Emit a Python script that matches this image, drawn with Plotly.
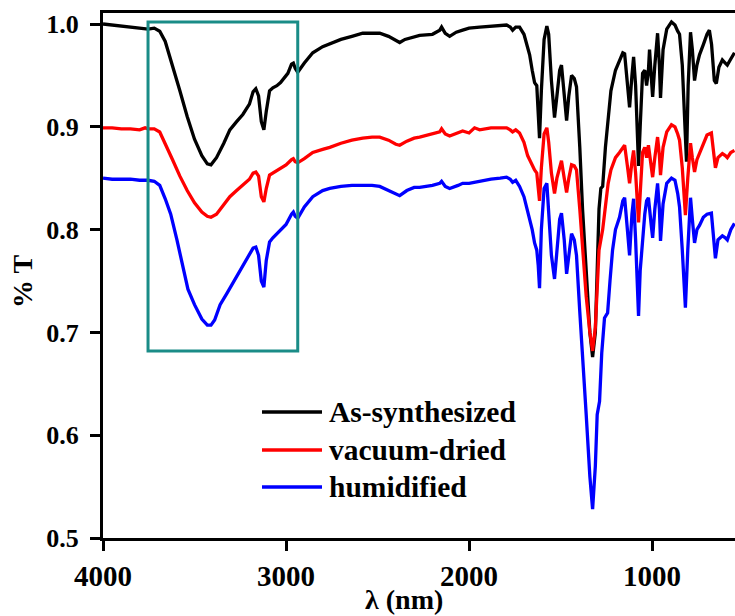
import plotly.graph_objects as go

# ---------------- data ----------------
series_names = ["As-synthesized", "vacuum-dried", "humidified"]
series_colors = ["#000000", "#ff0000", "#0000ff"]

wn_black = [4000, 3950, 3900, 3850, 3800, 3754, 3720, 3690, 3660, 3620, 3580, 3540, 3500, 3460, 3430, 3410, 3380, 3340, 3307, 3270, 3236, 3200, 3180, 3165, 3150, 3135, 3121, 3108, 3090, 3072, 3050, 3030, 3010, 2990, 2970, 2960, 2950, 2936, 2900, 2854, 2800, 2761, 2700, 2640, 2581, 2530, 2488, 2440, 2400, 2379, 2350, 2300, 2270, 2200, 2160, 2150, 2130, 2106, 2070, 2035, 2000, 1942, 1880, 1830, 1795, 1775, 1762, 1745, 1724, 1700, 1680, 1669, 1655, 1642, 1630, 1622, 1615, 1605, 1590, 1575, 1565, 1550, 1533, 1520, 1505, 1495, 1480, 1467, 1455, 1440, 1425, 1413, 1395, 1380, 1360, 1340, 1325, 1310, 1300, 1290, 1280, 1270, 1255, 1240, 1225, 1200, 1178, 1160, 1150, 1135, 1123, 1110, 1101, 1090, 1080, 1074, 1065, 1052, 1040, 1030, 1020, 1014, 1005, 997, 985, 970, 960, 954, 940, 920, 894, 875, 860, 850, 835, 822, 812, 803, 790, 780, 768, 755, 741, 720, 700, 687, 675, 660, 649, 635, 616, 600, 589, 570, 550]
t_black = [1.000, 0.999, 0.998, 0.997, 0.996, 0.995, 0.996, 0.993, 0.983, 0.960, 0.935, 0.910, 0.888, 0.872, 0.864, 0.863, 0.870, 0.884, 0.897, 0.905, 0.912, 0.922, 0.934, 0.937, 0.930, 0.905, 0.897, 0.915, 0.935, 0.938, 0.940, 0.943, 0.948, 0.952, 0.961, 0.962, 0.957, 0.953, 0.962, 0.972, 0.978, 0.981, 0.985, 0.988, 0.991, 0.991, 0.991, 0.988, 0.984, 0.982, 0.985, 0.988, 0.989, 0.990, 0.994, 0.997, 0.991, 0.988, 0.992, 0.994, 0.996, 0.997, 0.998, 0.999, 0.999, 0.997, 0.994, 0.997, 0.997, 0.990, 0.976, 0.970, 0.955, 0.943, 0.940, 0.915, 0.889, 0.935, 0.985, 0.998, 0.990, 0.945, 0.909, 0.930, 0.955, 0.960, 0.935, 0.906, 0.930, 0.950, 0.947, 0.939, 0.880, 0.820, 0.760, 0.700, 0.676, 0.700, 0.760, 0.820, 0.840, 0.842, 0.880, 0.910, 0.935, 0.955, 0.965, 0.972, 0.971, 0.945, 0.919, 0.950, 0.968, 0.940, 0.890, 0.862, 0.900, 0.952, 0.955, 0.940, 0.955, 0.975, 0.950, 0.929, 0.960, 0.991, 0.960, 0.928, 0.975, 0.995, 1.002, 0.999, 0.993, 0.990, 0.960, 0.900, 0.866, 0.940, 0.992, 0.975, 0.945, 0.960, 0.970, 0.980, 0.990, 0.994, 0.980, 0.945, 0.942, 0.958, 0.965, 0.962, 0.960, 0.966, 0.972]

wn_red = [4000, 3950, 3900, 3850, 3800, 3770, 3754, 3720, 3690, 3660, 3620, 3580, 3540, 3500, 3460, 3430, 3410, 3380, 3340, 3307, 3270, 3236, 3200, 3180, 3165, 3150, 3135, 3121, 3108, 3090, 3072, 3040, 3000, 2970, 2960, 2950, 2936, 2900, 2854, 2800, 2761, 2700, 2640, 2581, 2530, 2488, 2440, 2400, 2379, 2340, 2300, 2270, 2200, 2160, 2150, 2130, 2106, 2060, 2035, 2000, 1970, 1942, 1880, 1830, 1795, 1775, 1762, 1745, 1724, 1700, 1680, 1669, 1655, 1642, 1630, 1622, 1615, 1605, 1590, 1575, 1565, 1550, 1533, 1520, 1505, 1495, 1480, 1467, 1455, 1440, 1425, 1413, 1395, 1380, 1360, 1340, 1325, 1310, 1300, 1290, 1270, 1255, 1240, 1225, 1200, 1178, 1160, 1150, 1135, 1123, 1110, 1101, 1090, 1080, 1074, 1065, 1052, 1040, 1030, 1020, 1005, 997, 985, 970, 960, 954, 940, 920, 894, 875, 860, 850, 835, 822, 818, 805, 790, 780, 768, 755, 741, 720, 700, 676, 665, 654, 640, 616, 600, 589, 570, 550]
t_red = [0.899, 0.899, 0.898, 0.898, 0.897, 0.899, 0.898, 0.898, 0.895, 0.884, 0.868, 0.852, 0.838, 0.826, 0.817, 0.813, 0.812, 0.815, 0.824, 0.832, 0.838, 0.843, 0.849, 0.855, 0.856, 0.852, 0.832, 0.827, 0.840, 0.853, 0.855, 0.858, 0.863, 0.868, 0.869, 0.866, 0.865, 0.869, 0.875, 0.878, 0.880, 0.884, 0.887, 0.889, 0.890, 0.890, 0.887, 0.883, 0.882, 0.886, 0.889, 0.890, 0.893, 0.895, 0.898, 0.893, 0.891, 0.894, 0.896, 0.894, 0.899, 0.897, 0.899, 0.899, 0.899, 0.897, 0.895, 0.897, 0.894, 0.885, 0.872, 0.868, 0.862, 0.858, 0.855, 0.842, 0.828, 0.860, 0.893, 0.899, 0.885, 0.855, 0.835, 0.850, 0.862, 0.867, 0.850, 0.836, 0.850, 0.863, 0.862, 0.858, 0.820, 0.780, 0.735, 0.700, 0.682, 0.705, 0.745, 0.780, 0.800, 0.825, 0.845, 0.858, 0.870, 0.875, 0.880, 0.882, 0.862, 0.845, 0.866, 0.877, 0.855, 0.825, 0.807, 0.835, 0.875, 0.880, 0.870, 0.882, 0.862, 0.851, 0.870, 0.890, 0.872, 0.853, 0.880, 0.895, 0.902, 0.900, 0.893, 0.887, 0.860, 0.830, 0.814, 0.850, 0.884, 0.870, 0.856, 0.868, 0.874, 0.885, 0.892, 0.894, 0.875, 0.860, 0.870, 0.874, 0.872, 0.870, 0.875, 0.877]

wn_blue = [4000, 3950, 3900, 3850, 3800, 3754, 3720, 3690, 3660, 3630, 3596, 3560, 3536, 3500, 3460, 3430, 3410, 3390, 3360, 3323, 3290, 3250, 3210, 3180, 3165, 3150, 3135, 3121, 3108, 3090, 3072, 3040, 3000, 2970, 2960, 2950, 2936, 2900, 2854, 2800, 2761, 2700, 2640, 2581, 2530, 2488, 2440, 2400, 2379, 2340, 2300, 2270, 2200, 2160, 2150, 2130, 2106, 2060, 2035, 2000, 1942, 1880, 1830, 1795, 1775, 1762, 1745, 1724, 1700, 1685, 1669, 1655, 1642, 1630, 1622, 1615, 1605, 1590, 1575, 1565, 1550, 1533, 1520, 1505, 1495, 1480, 1467, 1455, 1440, 1425, 1413, 1395, 1380, 1360, 1340, 1325, 1310, 1300, 1287, 1275, 1260, 1243, 1230, 1216, 1200, 1178, 1160, 1150, 1135, 1123, 1110, 1101, 1090, 1080, 1074, 1065, 1052, 1040, 1030, 1020, 1005, 997, 985, 970, 960, 954, 940, 920, 894, 875, 860, 850, 835, 822, 818, 805, 790, 780, 768, 755, 741, 720, 700, 676, 665, 654, 640, 616, 600, 589, 570, 550]
t_blue = [0.850, 0.849, 0.849, 0.849, 0.848, 0.848, 0.847, 0.843, 0.830, 0.815, 0.790, 0.763, 0.742, 0.727, 0.713, 0.707, 0.707, 0.712, 0.727, 0.738, 0.748, 0.760, 0.773, 0.782, 0.783, 0.775, 0.750, 0.744, 0.770, 0.788, 0.792, 0.798, 0.805, 0.815, 0.817, 0.813, 0.811, 0.822, 0.832, 0.838, 0.840, 0.842, 0.843, 0.843, 0.843, 0.842, 0.838, 0.834, 0.833, 0.838, 0.841, 0.841, 0.843, 0.845, 0.847, 0.842, 0.840, 0.843, 0.845, 0.845, 0.847, 0.849, 0.850, 0.851, 0.849, 0.846, 0.848, 0.842, 0.832, 0.822, 0.812, 0.800, 0.787, 0.780, 0.765, 0.743, 0.800, 0.840, 0.845, 0.820, 0.775, 0.752, 0.780, 0.810, 0.816, 0.790, 0.757, 0.775, 0.796, 0.790, 0.775, 0.720, 0.680, 0.620, 0.560, 0.528, 0.570, 0.620, 0.633, 0.680, 0.714, 0.719, 0.750, 0.780, 0.800, 0.812, 0.828, 0.831, 0.800, 0.775, 0.815, 0.830, 0.790, 0.735, 0.716, 0.760, 0.790, 0.815, 0.828, 0.831, 0.805, 0.792, 0.820, 0.845, 0.820, 0.789, 0.825, 0.845, 0.850, 0.848, 0.835, 0.822, 0.780, 0.735, 0.724, 0.780, 0.831, 0.810, 0.787, 0.800, 0.804, 0.812, 0.815, 0.816, 0.795, 0.772, 0.790, 0.794, 0.792, 0.790, 0.800, 0.806]

x_ticks = [4000, 3000, 2000, 1000]
y_ticks = [0.5, 0.6, 0.7, 0.8, 0.9, 1.0]
x_range = [4000, 547]
y_range = [0.5, 1.0107]
box_x = [3754, 2936]
box_y = [0.682, 1.002]

FONT = "Liberation Serif"

fig = go.Figure()
for name, color, xs, ys in zip(series_names, series_colors,
                               [wn_black, wn_red, wn_blue],
                               [t_black, t_red, t_blue]):
    fig.add_trace(go.Scatter(x=xs, y=ys, mode="lines", name=name,
                             line=dict(color=color, width=3.3),
                             showlegend=False))

# highlighted region
fig.add_shape(type="rect", xref="x", yref="y",
              x0=box_x[0], x1=box_x[1], y0=box_y[0], y1=box_y[1],
              line=dict(color="#1a8c87", width=3))

# manual legend (long line keys)
L, R, T, B = 103, 735, 13, 538
def px(xp): return (xp - L) / (R - L)
def py(yp): return (B - yp) / (B - T)
leg_rows = [412, 450, 487]
for name, color, yr in zip(series_names, series_colors, leg_rows):
    fig.add_shape(type="line", xref="paper", yref="paper",
                  x0=px(262), x1=px(322), y0=py(yr), y1=py(yr),
                  line=dict(color=color, width=3.3))
    fig.add_annotation(xref="paper", yref="paper", x=px(327), y=py(yr),
                       text="<b>" + name + "</b>", showarrow=False,
                       xanchor="left", yanchor="middle",
                       font=dict(family=FONT, size=29.5, color="black"))

# axis titles
fig.add_annotation(xref="paper", yref="paper", x=px(404), y=py(599),
                   text="<b>λ (nm)</b>", showarrow=False, xanchor="center", yanchor="middle",
                   font=dict(family=FONT, size=28, color="black"))
fig.add_annotation(xref="paper", yref="paper", x=px(22), y=py(282),
                   text="<b>% T</b>", showarrow=False, textangle=-90,
                   xanchor="center", yanchor="middle",
                   font=dict(family=FONT, size=28, color="black"))

fig.update_xaxes(range=x_range, tickvals=x_ticks,
                 ticktext=["<b>%d</b>" % v for v in x_ticks],
                 showline=True, linecolor="black", linewidth=3, mirror=True,
                 ticks="outside", ticklen=10, tickwidth=3, tickcolor="black",
                 showgrid=False, zeroline=False,
                 tickfont=dict(family=FONT, size=29, color="black"))
fig.update_yaxes(range=y_range, tickvals=y_ticks,
                 ticktext=["<b>%.1f</b>" % v for v in y_ticks],
                 showline=True, linecolor="black", linewidth=3,
                 ticks="outside", ticklen=10, tickwidth=3, tickcolor="black",
                 showgrid=False, zeroline=False, ticklabelstandoff=6,
                 tickfont=dict(family=FONT, size=26, color="black"))

fig.update_layout(width=735, height=616,
                  margin=dict(l=L, r=0, t=T, b=616 - B),
                  paper_bgcolor="white", plot_bgcolor="white",
                  showlegend=False)

fig.write_html("out.html")
